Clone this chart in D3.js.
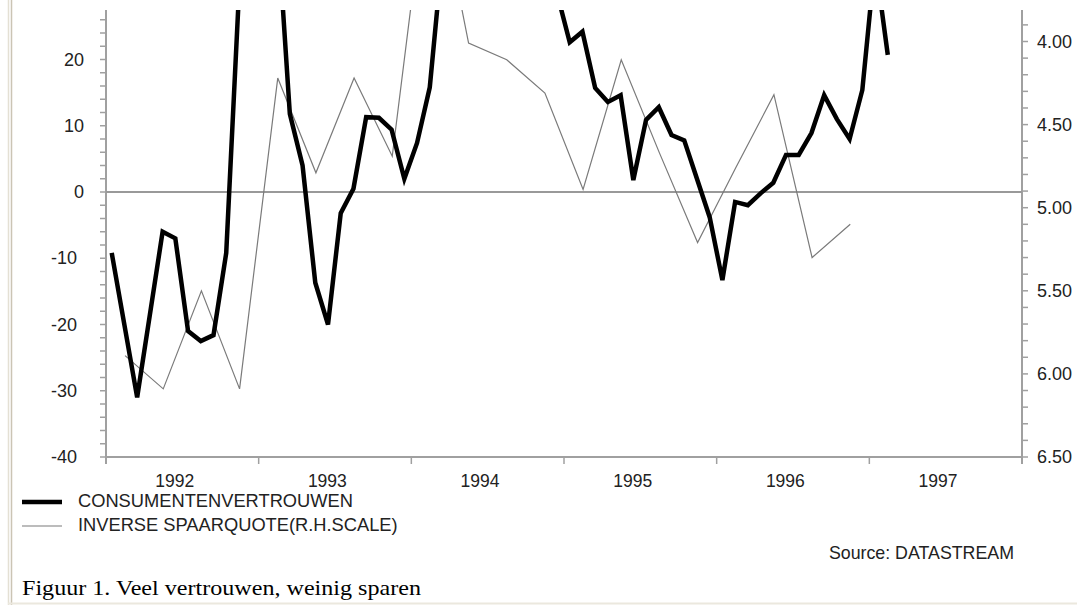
<!DOCTYPE html>
<html>
<head>
<meta charset="utf-8">
<script src="https://cdn.jsdelivr.net/npm/d3@7"></script>
<style>
  body { margin: 0; background: #fff; }
  svg { display: block; }
  text { font-family: "Liberation Sans", Arial, sans-serif; fill: #222; }
</style>
</head>
<body>
<svg id="chart" width="1077" height="605"></svg>
<script>
// Consumentenvertrouwen, monthly Jan 1992 .. Feb 1997 (left scale)
const confidence = [
  -9.2, -20.1, -31, -18.5, -6, -7, -21, -22.5, -21.6, -9.2, 30, 38,
  42, 41, 11.8, 4, -13.7, -20, -3.2, 0.5, 11.3, 11.2, 9.4, 2,
  7.4, 15.8, 36, 38, 40, 42, 41, 43, 40, 38, 34, 30,
  22.6, 24.2, 15.7, 13.6, 14.6, 1.8, 10.9, 12.8, 8.6, 7.8, 2, -3.8,
  -13.3, -1.5, -2.0, -0.2, 1.4, 5.6, 5.6, 8.9, 14.6, 11, 8, 15.4,
  35, 20.7
];
// Inverse spaarquote, quarterly Q1 1992 .. Q4 1996 (right scale, inverted)
const savings = [
  5.89, 6.09, 5.50, 6.09, 4.22, 4.79, 4.22, 4.69, 2.85, 4.01,
  4.11, 4.31, 4.89, 4.11, 4.67, 5.21, 4.76, 4.32, 5.30, 5.10
];
const years = [1992, 1993, 1994, 1995, 1996, 1997];
const leftLabels = [-40, -30, -20, -10, 0, 10, 20];
const rightLabels = [4.0, 4.5, 5.0, 5.5, 6.0, 6.5];
const legendNames = ["CONSUMENTENVERTROUWEN", "INVERSE SPAARQUOTE(R.H.SCALE)"];

const svg = d3.select("#chart");
const plotLeft = 106, plotRight = 1022, plotTop = 10, plotBottom = 457;

const x = d3.scaleLinear().domain([1992, 1998]).range([plotLeft, plotRight]);
const yL = d3.scaleLinear().domain([-40, 0]).range([plotBottom, 192]);
const yR = d3.scaleLinear().domain([6.5, 4.0]).range([plotBottom, 41.5]);

// page frame
svg.append("line").attr("x1", 8.5).attr("x2", 8.5).attr("y1", 0).attr("y2", 605)
  .attr("stroke", "#e4e0d4").attr("stroke-width", 1.5);
svg.append("line").attr("x1", 11.5).attr("x2", 11.5).attr("y1", 0).attr("y2", 605)
  .attr("stroke", "#cbc4b4").attr("stroke-width", 1.5);
svg.append("line").attr("x1", 8).attr("x2", 1077).attr("y1", 603.5).attr("y2", 603.5)
  .attr("stroke", "#ebe8de").attr("stroke-width", 2);

svg.append("defs").append("clipPath").attr("id", "plotclip")
  .append("rect").attr("x", plotLeft).attr("y", plotTop)
  .attr("width", plotRight - plotLeft).attr("height", plotBottom - plotTop);

const axisColor = "#a0a0a0";

// left axis
const leftAxis = svg.append("g");
leftAxis.append("line").attr("x1", plotLeft).attr("x2", plotLeft)
  .attr("y1", plotTop).attr("y2", plotBottom + 7)
  .attr("stroke", axisColor).attr("stroke-width", 2);
leftAxis.selectAll(".tk").data(d3.range(-40, 27, 2)).enter().append("line")
  .attr("x1", plotLeft - 6).attr("x2", plotLeft)
  .attr("y1", d => yL(d)).attr("y2", d => yL(d))
  .attr("stroke", axisColor).attr("stroke-width", 1.5);
leftAxis.selectAll("text").data(leftLabels).enter().append("text")
  .attr("x", d => d < 0 ? 77 : 84)
  .attr("y", d => yL(d) + 6)
  .attr("text-anchor", "end")
  .style("font-size", "18px")
  .text(d => String(d));

// right axis
const rightAxis = svg.append("g");
rightAxis.append("line").attr("x1", plotRight).attr("x2", plotRight)
  .attr("y1", plotTop).attr("y2", plotBottom + 7)
  .attr("stroke", axisColor).attr("stroke-width", 2);
rightAxis.selectAll(".tk").data(d3.range(39, 66).map(d => d / 10)).enter().append("line")
  .attr("x1", plotRight).attr("x2", plotRight + 6)
  .attr("y1", d => yR(d)).attr("y2", d => yR(d))
  .attr("stroke", axisColor).attr("stroke-width", 1.5);
rightAxis.selectAll("text").data(rightLabels).enter().append("text")
  .attr("x", 1037)
  .attr("y", d => yR(d) + 6)
  .style("font-size", "18px")
  .text(d => d3.format(".2f")(d));

// bottom axis
const bottomAxis = svg.append("g");
bottomAxis.append("line").attr("x1", plotLeft).attr("x2", plotRight)
  .attr("y1", plotBottom).attr("y2", plotBottom)
  .attr("stroke", axisColor).attr("stroke-width", 2);
bottomAxis.selectAll(".tk").data(d3.range(1993, 1998)).enter().append("line")
  .attr("x1", d => x(d)).attr("x2", d => x(d))
  .attr("y1", plotBottom).attr("y2", plotBottom + 7)
  .attr("stroke", axisColor).attr("stroke-width", 1.5);
bottomAxis.selectAll("text").data(years).enter().append("text")
  .attr("x", d => x(d + 0.45))
  .attr("y", 487)
  .attr("text-anchor", "middle")
  .style("font-size", "17.5px")
  .text(d => d);

// zero line
svg.append("line").attr("x1", plotLeft).attr("x2", plotRight)
  .attr("y1", yL(0)).attr("y2", yL(0))
  .attr("stroke", "#999").attr("stroke-width", 2);

const plot = svg.append("g").attr("clip-path", "url(#plotclip)");

const thinLine = d3.line()
  .x((d, i) => x(1992 + (i + 0.5) / 4))
  .y(d => yR(d));
plot.append("path").datum(savings)
  .attr("d", thinLine)
  .attr("fill", "none").attr("stroke", "#7a7a7a").attr("stroke-width", 1.2);

const thickLine = d3.line()
  .x((d, i) => x(1992 + (i + 0.45) / 12))
  .y(d => yL(d));
plot.append("path").datum(confidence)
  .attr("d", thickLine)
  .attr("fill", "none").attr("stroke", "#000").attr("stroke-width", 4.5)
  .attr("stroke-linejoin", "miter");

// legend
const legend = svg.append("g");
legend.append("line").attr("x1", 22).attr("x2", 62).attr("y1", 502).attr("y2", 502)
  .attr("stroke", "#000").attr("stroke-width", 4.5);
legend.append("line").attr("x1", 22).attr("x2", 62).attr("y1", 526).attr("y2", 526)
  .attr("stroke", "#7a7a7a").attr("stroke-width", 1.2);
legend.selectAll("text").data(legendNames).enter().append("text")
  .attr("x", 78)
  .attr("y", (d, i) => 507 + i * 23.5)
  .style("font-size", "18.3px")
  .text(d => d);

svg.append("text")
  .attr("x", 1014).attr("y", 559)
  .attr("text-anchor", "end")
  .style("font-size", "17.8px")
  .text("Source: DATASTREAM");

svg.append("text")
  .attr("x", 22).attr("y", 595)
  .attr("textLength", 399)
  .attr("lengthAdjust", "spacingAndGlyphs")
  .style("font-family", "'Liberation Serif', 'Times New Roman', serif")
  .style("font-size", "22px")
  .style("fill", "#000")
  .text("Figuur 1. Veel vertrouwen, weinig sparen");
</script>
</body>
</html>
